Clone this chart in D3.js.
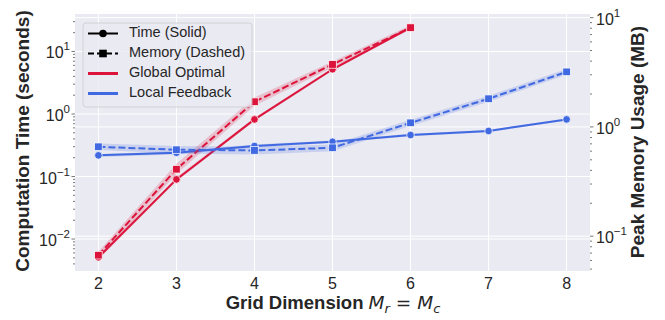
<!DOCTYPE html>
<html>
<head>
<meta charset="utf-8">
<script src="https://cdn.jsdelivr.net/npm/d3@7/dist/d3.min.js"></script>
<style>
  body { margin: 0; background: #fff; }
  text { font-family: "Liberation Sans", Arial, sans-serif; fill: #262626; }
</style>
</head>
<body>
<div id="chart"></div>
<script>
// grid sizes
let gridDims = [2, 3, 4, 5, 6, 7, 8];

// Global Optimal (only up to 6)
let globalTime = [0.0051, 0.090, 0.82, 5.2, 24.2];
let globalTimeLo = [0.0047, 0.084, 0.77, 4.9, 23.0];
let globalTimeHi = [0.0055, 0.097, 0.87, 5.5, 25.5];
let globalMem = [0.067, 0.41, 1.70, 3.73, 8.1];
let globalMemLo = [0.062, 0.37, 1.56, 3.5, 7.8];
let globalMemHi = [0.072, 0.46, 1.86, 3.97, 8.5];

// Local Feedback
let localTime = [0.218, 0.240, 0.308, 0.36, 0.461, 0.535, 0.82];
let localTimeLo = [0.206, 0.226, 0.29, 0.343, 0.44, 0.513, 0.79];
let localTimeHi = [0.230, 0.254, 0.326, 0.378, 0.483, 0.557, 0.85];
let localMem = [0.658, 0.618, 0.609, 0.644, 1.09, 1.81, 3.19];
let localMemLo = [0.615, 0.57, 0.56, 0.598, 1.02, 1.70, 3.0];
let localMemHi = [0.705, 0.67, 0.66, 0.692, 1.16, 1.93, 3.39];

let leftTicks = [0.01, 0.1, 1, 10];
let rightTicks = [0.1, 1, 10];
let xTicks = [2, 3, 4, 5, 6, 7, 8];

let red = "#DC143C";
let blue = "#4169E1";

let W = 665, H = 320;
let svg = d3.select("#chart").append("svg").attr("width", W).attr("height", H);

let x = d3.scaleLinear().domain([1.7, 8.3]).range([75, 590]);
let yL = d3.scaleLog().domain([0.00308, 39.8]).range([271, 14]);
let yR = d3.scaleLog().domain([0.048, 10.8]).range([271, 14]);

// background
svg.append("rect").attr("x", 75).attr("y", 14).attr("width", 515).attr("height", 257).attr("fill", "#EAEAF2");

// grid lines
let grid = svg.append("g").attr("stroke", "#fff").attr("stroke-width", 1);
xTicks.forEach(function (t) {
    grid.append("line").attr("x1", x(t)).attr("x2", x(t)).attr("y1", 14).attr("y2", 271);
});
leftTicks.forEach(function (t) {
    grid.append("line").attr("x1", 75).attr("x2", 590).attr("y1", yL(t)).attr("y2", yL(t));
});
rightTicks.forEach(function (t) {
    grid.append("line").attr("x1", 75).attr("x2", 590).attr("y1", yR(t)).attr("y2", yR(t));
});

// minor + major ticks on both y axes
function logTicks(scale) {
    let [a, b] = scale.domain();
    let out = [];
    for (let e = Math.floor(Math.log10(a)); e <= Math.ceil(Math.log10(b)); e++) {
        for (let m = 1; m < 10; m++) {
            let v = m * Math.pow(10, e);
            if (v >= a && v <= b) out.push({v: v, major: m === 1});
        }
    }
    return out;
}
let tk = svg.append("g").attr("stroke", "#555").attr("stroke-width", 0.8);
logTicks(yL).forEach(function (d) {
    let len = d.major ? 3.5 : 2;
    tk.append("line").attr("x1", 75 - len).attr("x2", 75).attr("y1", yL(d.v)).attr("y2", yL(d.v));
});
logTicks(yR).forEach(function (d) {
    let len = d.major ? 3.5 : 2;
    tk.append("line").attr("x1", 590).attr("x2", 590 + len).attr("y1", yR(d.v)).attr("y2", yR(d.v));
});

// tick labels
function powLabel(g, v, px, py, anchor) {
    let e = Math.round(Math.log10(v));
    let t = g.append("text").attr("x", px).attr("y", py).attr("text-anchor", anchor)
        .attr("dominant-baseline", "middle").style("font-size", "16px");
    t.append("tspan").text("10");
    t.append("tspan").attr("dy", -7).style("font-size", "11.5px").text(e < 0 ? "\u2212" + (-e) : "" + e);
}
leftTicks.forEach(function (t) { powLabel(svg, t, 70, yL(t) + 3, "end"); });
rightTicks.forEach(function (t) { powLabel(svg, t, 596, yR(t) + 3, "start"); });
xTicks.forEach(function (t) {
    svg.append("text").attr("x", x(t)).attr("y", 289).attr("text-anchor", "middle")
        .style("font-size", "16px").text(t);
});

// axis labels
svg.append("text").attr("transform", "translate(29,141) rotate(-90)").attr("text-anchor", "middle")
    .style("font-size", "19px").style("font-weight", "bold").text("Computation Time (seconds)");
svg.append("text").attr("transform", "translate(644,142) rotate(-90)").attr("text-anchor", "middle")
    .style("font-size", "19px").style("font-weight", "bold").text("Peak Memory Usage (MB)");
let xl = svg.append("text").attr("x", 333).attr("y", 309).attr("text-anchor", "middle").style("font-size", "18.5px");
xl.append("tspan").style("font-weight", "bold").text("Grid Dimension ");
let mathFont = "'DejaVu Sans', sans-serif";
xl.append("tspan").style("font-family", mathFont).style("font-style", "italic").text("M");
xl.append("tspan").style("font-family", mathFont).style("font-style", "italic").style("font-size", "13px").attr("dy", 4).text("r");
xl.append("tspan").style("font-family", mathFont).attr("dy", -4).text(" = ");
xl.append("tspan").style("font-family", mathFont).style("font-style", "italic").text("M");
xl.append("tspan").style("font-family", mathFont).style("font-style", "italic").style("font-size", "13px").attr("dy", 4).text("c");

// series
function series(vals, lo, hi, y, color, dashed, marker) {
    let pts = vals.map(function (v, i) { return {x: gridDims[i], v: v, lo: lo[i], hi: hi[i]}; });
    let area = d3.area().x(function (d) { return x(d.x); })
        .y0(function (d) { return y(d.lo); }).y1(function (d) { return y(d.hi); });
    svg.append("path").datum(pts).attr("d", area).attr("fill", color).attr("fill-opacity", 0.2);
    let line = d3.line().x(function (d) { return x(d.x); }).y(function (d) { return y(d.v); });
    svg.append("path").datum(pts).attr("d", line).attr("fill", "none").attr("stroke", color)
        .attr("stroke-width", 2).attr("stroke-dasharray", dashed ? "7,3" : null);
    pts.forEach(function (d) {
        if (marker === "circle") {
            svg.append("circle").attr("cx", x(d.x)).attr("cy", y(d.v)).attr("r", 3.8)
                .attr("fill", color).attr("stroke", "#fff").attr("stroke-width", 0.7);
        } else {
            svg.append("rect").attr("x", x(d.x) - 3.8).attr("y", y(d.v) - 3.8).attr("width", 7.6).attr("height", 7.6)
                .attr("fill", color).attr("stroke", "#fff").attr("stroke-width", 0.7);
        }
    });
}
series(globalTime, globalTimeLo, globalTimeHi, yL, red, false, "circle");
series(localTime, localTimeLo, localTimeHi, yL, blue, false, "circle");
series(globalMem, globalMemLo, globalMemHi, yR, red, true, "square");
series(localMem, localMemLo, localMemHi, yR, blue, true, "square");

// legend
let lg = svg.append("g");
lg.append("rect").attr("x", 83).attr("y", 23).attr("width", 169).attr("height", 84).attr("rx", 3)
    .attr("fill", "#EAEAF2").attr("fill-opacity", 0.8).attr("stroke", "#ccc").attr("stroke-width", 0.8);
let items = [
    {label: "Time (Solid)", color: "#000", dash: null, marker: "circle", w: 2},
    {label: "Memory (Dashed)", color: "#000", dash: "6,3", marker: "square", w: 2},
    {label: "Global Optimal", color: red, dash: null, marker: null, w: 3},
    {label: "Local Feedback", color: blue, dash: null, marker: null, w: 3}
];
items.forEach(function (d, i) {
    let cy = 33.5 + i * 20;
    lg.append("line").attr("x1", 88).attr("x2", 118).attr("y1", cy).attr("y2", cy)
        .attr("stroke", d.color).attr("stroke-width", d.w).attr("stroke-dasharray", d.dash);
    if (d.marker === "circle") {
        lg.append("circle").attr("cx", 103).attr("cy", cy).attr("r", 3.8).attr("fill", "#000");
    } else if (d.marker === "square") {
        lg.append("rect").attr("x", 99.2).attr("y", cy - 3.8).attr("width", 7.6).attr("height", 7.6).attr("fill", "#000");
    }
    lg.append("text").attr("x", 129).attr("y", cy).attr("dominant-baseline", "middle")
        .style("font-size", "14.5px").text(d.label);
});
</script>
</body>
</html>
